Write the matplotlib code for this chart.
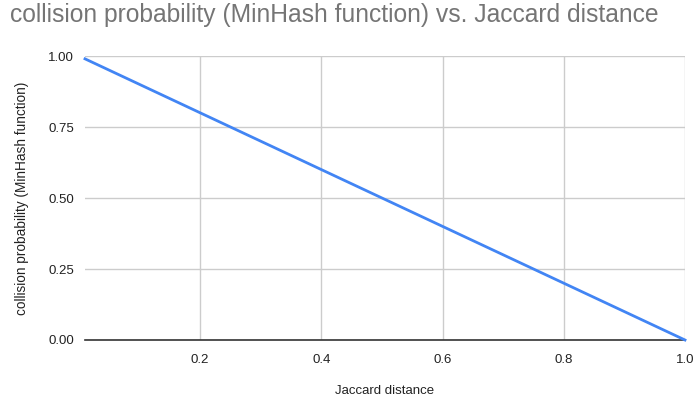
import matplotlib
matplotlib.use("Agg")
import matplotlib.pyplot as plt

plt.rcParams['font.family'] = ['Liberation Sans', 'DejaVu Sans']

jaccard_distance = [0.01, 0.2, 0.4, 0.6, 0.8, 1.0]
collision_prob = [0.99, 0.8, 0.6, 0.4, 0.2, 0.0]
x_ticks = [0.2, 0.4, 0.6, 0.8, 1.0]
x_tick_labels = ["0.2", "0.4", "0.6", "0.8", "1.0"]
y_ticks = [0.0, 0.25, 0.5, 0.75, 1.0]
y_tick_labels = ["0.00", "0.25", "0.50", "0.75", "1.00"]

W, H = 695, 401
fig = plt.figure(figsize=(W / 100, H / 100), dpi=100)
ax = fig.add_axes([85 / W, (H - 340) / H, 600 / W, 284 / H])

ax.plot(jaccard_distance, collision_prob, color='#4285f4', linewidth=2, zorder=3,
        clip_on=False)

ax.set_xlim(0.01, 1.0)
ax.set_ylim(0, 1.0)
ax.set_xticks(x_ticks)
ax.set_xticklabels(x_tick_labels)
ax.set_yticks(y_ticks)
ax.set_yticklabels(y_tick_labels)
ax.tick_params(length=0, labelsize=9.5, colors='#222222', pad=8)
ax.tick_params(axis='x', pad=10)
ax.grid(True, color='#cccccc', linewidth=1)
ax.set_axisbelow(True)
for s in ['top', 'right', 'left']:
    ax.spines[s].set_visible(False)
ax.spines['bottom'].set_color('#333333')
ax.spines['bottom'].set_linewidth(1.2)
ax.spines['bottom'].set_zorder(2)

ax.set_xlabel("Jaccard distance", fontsize=9.5, color='#222222', labelpad=14)
ax.set_ylabel("collision probability (MinHash function)", fontsize=9.8,
              color='#222222', labelpad=14)

fig.text(10 / W, 1 - 15 / H, "collision probability (MinHash function) vs. Jaccard distance",
         fontsize=17.7, color='#757575', va='center', ha='left')

fig.savefig("out.png", dpi=100)
